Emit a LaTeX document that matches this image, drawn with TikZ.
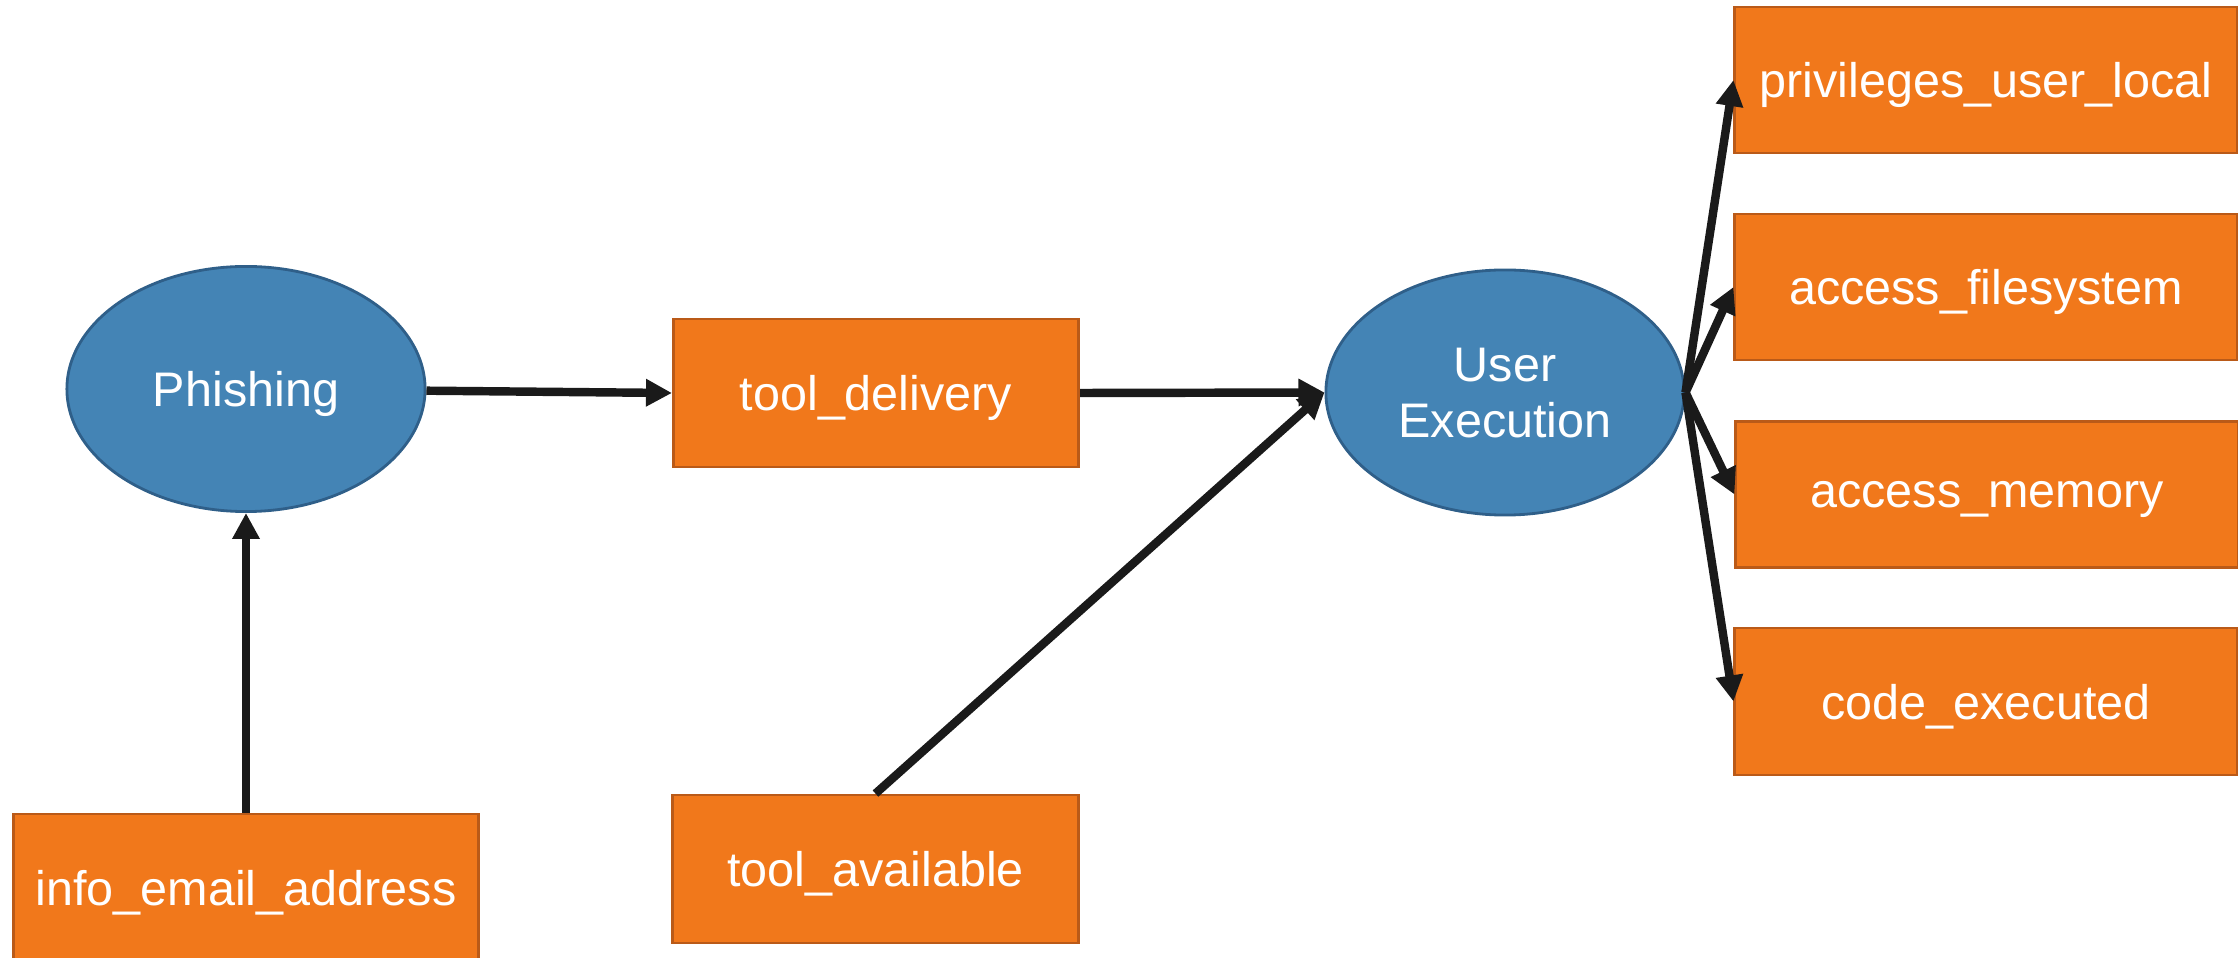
\documentclass[tikz,border=0pt]{standalone}
\usepackage{fontspec}
\setmainfont{Liberation Sans}
\usetikzlibrary{shapes.geometric,arrows.meta}
\definecolor{boxfill}{RGB}{241,120,27}
\definecolor{boxedge}{RGB}{186,90,24}
\definecolor{ovalfill}{RGB}{68,132,181}
\definecolor{ovaledge}{RGB}{47,95,137}
\definecolor{linkcol}{RGB}{26,26,26}
\begin{document}
\begin{tikzpicture}[x=0.01cm, y=-0.01cm,
  every node/.style={font=\fontsize{13.8pt}{16pt}\selectfont, text=white, inner sep=0pt, text depth=0pt},
  statebox/.style={rectangle, fill=boxfill, draw=boxedge, line width=0.8pt},
  technique/.style={ellipse, fill=ovalfill, draw=ovaledge, line width=0.8pt,
    minimum width=3.58cm, minimum height=2.45cm, align=center},
  link/.style={draw=linkcol, line width=2.4pt,
    -{Triangle[length=0.26cm, width=0.26cm]}}]
\useasboundingbox (0,0) rectangle (2238,958);

% attack techniques
\node[technique] (phish) at (246,389) {Phishing};
\node[technique] (exec) at (1505,392.5) {User\\Execution};

% preconditions and outcomes
\node[statebox, minimum width=4.05cm, minimum height=1.48cm] (deliv) at (876,393) {tool\_delivery};
\node[statebox, minimum width=4.64cm, minimum height=1.47cm] (email) at (246,887.5) {info\_email\_address};
\node[statebox, minimum width=4.05cm, minimum height=1.48cm] (avail) at (875.5,869) {tool\_available};
\node[statebox, minimum width=5.02cm, minimum height=1.46cm] (priv) at (1986,80) {privileges\_user\_local};
\node[statebox, minimum width=5.02cm, minimum height=1.46cm] (fs) at (1986,287) {access\_filesystem};
\node[statebox, minimum width=5.02cm, minimum height=1.46cm] (mem) at (1987,494.5) {access\_memory};
\node[statebox, minimum width=5.02cm, minimum height=1.47cm] (code) at (1986,701.5) {code\_executed};

% connections
\draw[link] (email.north) -- (phish.south);
\draw[link] (phish) -- (deliv.west);
\draw[link] (deliv.east) -- (exec.west);
\draw[link] (avail.north) -- (exec.west);
\draw[link] (exec.east) -- (priv.west);
\draw[link] (exec.east) -- (fs.west);
\draw[link] (exec.east) -- (mem.west);
\draw[link] (exec.east) -- (code.west);
\end{tikzpicture}
\end{document}
